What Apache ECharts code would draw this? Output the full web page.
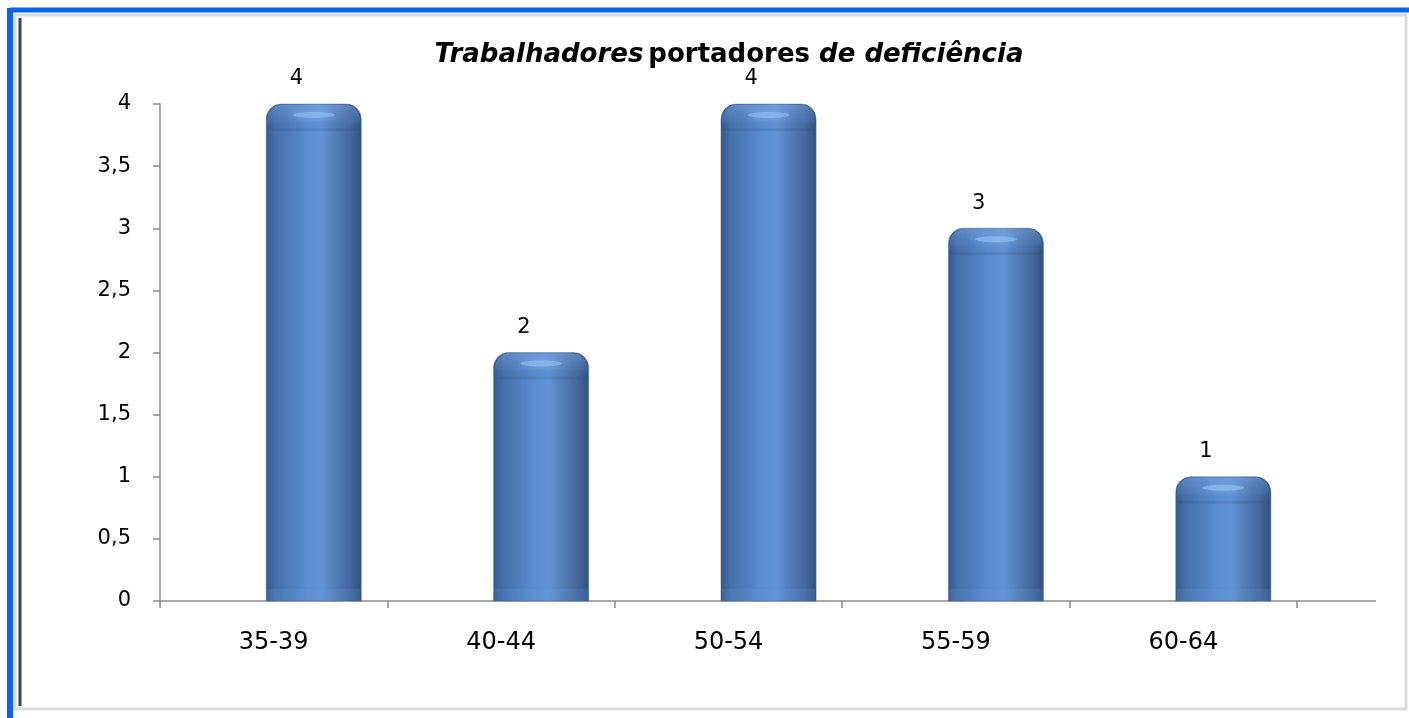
<!DOCTYPE html>
<html>
<head>
<meta charset="utf-8">
<script src="https://cdn.jsdelivr.net/npm/echarts@6/dist/echarts.min.js"></script>
<style>
  html, body { margin: 0; padding: 0; background: #fff; }
  #chart { width: 1409px; height: 718px; }
</style>
</head>
<body>
<div id="chart"></div>
<script>
// faixas etarias e numero de trabalhadores
const categories = ["35-39", "40-44", "50-54", "55-59", "60-64"];
const values = [4, 2, 4, 3, 1];
const yTicks = [0, 0.5, 1, 1.5, 2, 2.5, 3, 3.5, 4];

const chart = echarts.init(document.getElementById("chart"));

const axisGray = "#8c8c8c";
const textFont = "DejaVu Sans";

// cilindro estilo excel 3d
function renderCylinder(params, api) {
  const idx = api.value(0);
  const val = api.value(1);
  const top = api.coord([idx, val]);
  const base = api.coord([idx, 0]);
  const band = api.size([1, 0])[0];
  const w = band * 0.418;
  const cx = top[0] + band * 0.176;
  const x = cx - w / 2;
  const h = base[1] - top[1];
  const r = 15;
  return {
    type: "group",
    children: [
      {
        type: "rect",
        shape: { x: x, y: top[1], width: w, height: h, r: [r, r, 0, 0] },
        style: {
          fill: new echarts.graphic.LinearGradient(0, 0, 1, 0, [
            { offset: 0, color: "#34598a" },
            { offset: 0.1, color: "#4570aa" },
            { offset: 0.42, color: "#5a8bcd" },
            { offset: 0.58, color: "#6193d4" },
            { offset: 0.88, color: "#44699d" },
            { offset: 1, color: "#2f5282" }
          ]),
          stroke: "#4a6e9e",
          lineWidth: 0.5
        }
      },
      {
        // tampa superior
        type: "rect",
        shape: { x: x + 1, y: top[1] + 1, width: w - 2, height: 24, r: [r, r, 6, 6] },
        style: {
          fill: new echarts.graphic.LinearGradient(0, 0, 0, 1, [
            { offset: 0, color: "rgba(125,165,220,0.45)" },
            { offset: 0.6, color: "rgba(100,145,205,0.25)" },
            { offset: 1, color: "rgba(60,100,160,0.0)" }
          ])
        }
      },
      {
        type: "ellipse",
        shape: { cx: cx, cy: top[1] + 11, rx: w * 0.22, ry: 3 },
        style: { fill: "rgba(150,195,245,0.55)", shadowBlur: 6, shadowColor: "rgba(150,195,245,0.8)" }
      },
      {
        type: "rect",
        shape: { x: x + 1, y: top[1] + 24, width: w - 2, height: 3 },
        style: { fill: "rgba(45,80,130,0.18)" }
      },
      {
        // base
        type: "rect",
        shape: { x: x + 1, y: base[1] - 12, width: w - 2, height: 11 },
        style: { fill: "rgba(110,160,230,0.15)" }
      },
      {
        type: "text",
        style: {
          text: String(val),
          x: top[0] + band * 0.1,
          y: top[1] - 25,
          align: "center",
          verticalAlign: "middle",
          fill: "#000",
          font: "21px '" + textFont + "'"
        }
      }
    ]
  };
}

const option = {
  backgroundColor: "#ffffff",
  animation: false,
  title: {
    text: "{i|Trabalhadores} {b|portadores}{i| de deficiência}",
    left: 724,
    textAlign: "center",
    top: 37,
    textStyle: {
      rich: {
        i: { fontFamily: textFont, fontSize: 26, fontWeight: "bold", fontStyle: "italic", color: "#000" },
        b: { fontFamily: textFont, fontSize: 26, fontWeight: "bold", color: "#000" }
      }
    }
  },
  grid: { left: 160, right: 112, top: 104, bottom: 117 },
  xAxis: {
    type: "category",
    data: categories,
    boundaryGap: true,
    axisLine: { show: true, lineStyle: { color: axisGray, width: 1.5 } },
    axisTick: { show: true, length: 7, interval: 0, lineStyle: { color: axisGray, width: 1.5 } },
    axisLabel: { margin: 30, fontSize: 24, fontFamily: textFont, color: "#000" },
    splitLine: { show: false }
  },
  yAxis: {
    type: "value",
    min: yTicks[0],
    max: yTicks[yTicks.length - 1],
    interval: yTicks[1] - yTicks[0],
    axisLine: { show: true, lineStyle: { color: axisGray, width: 1.5 } },
    axisTick: { show: true, length: 7, lineStyle: { color: axisGray, width: 1.5 } },
    axisLabel: {
      margin: 29,
      fontSize: 21,
      fontFamily: textFont,
      color: "#000",
      formatter: function (v) { return String(v).replace(".", ","); }
    },
    splitLine: { show: false }
  },
  series: [
    {
      type: "custom",
      renderItem: renderCylinder,
      data: values.map(function (v, i) { return [i, v]; }),
      encode: { x: 0, y: 1 },
      z: 3
    }
  ],
  graphic: [
    // moldura
    { type: "rect", shape: { x: 15, y: 15, width: 1391, height: 694 }, style: { fill: "none", stroke: "#dcdcdc", lineWidth: 3 }, z: 10 },
    { type: "line", shape: { x1: 10, y1: 10, x2: 1409, y2: 10 }, style: { stroke: "#0a63f5", lineWidth: 5 }, z: 11 },
    { type: "line", shape: { x1: 10, y1: 8, x2: 10, y2: 718 }, style: { stroke: "#0a63f5", lineWidth: 6 }, z: 11 },
    { type: "line", shape: { x1: 20, y1: 18, x2: 20, y2: 706 }, style: { stroke: "#444", lineWidth: 3 }, z: 11 },
    // prolongamento do eixo x
    { type: "line", shape: { x1: 1297, y1: 601, x2: 1376, y2: 601 }, style: { stroke: axisGray, lineWidth: 1.5 }, z: 5 }
  ]
};

chart.setOption(option);
window.addEventListener("resize", function () { chart.resize(); });
</script>
</body>
</html>
